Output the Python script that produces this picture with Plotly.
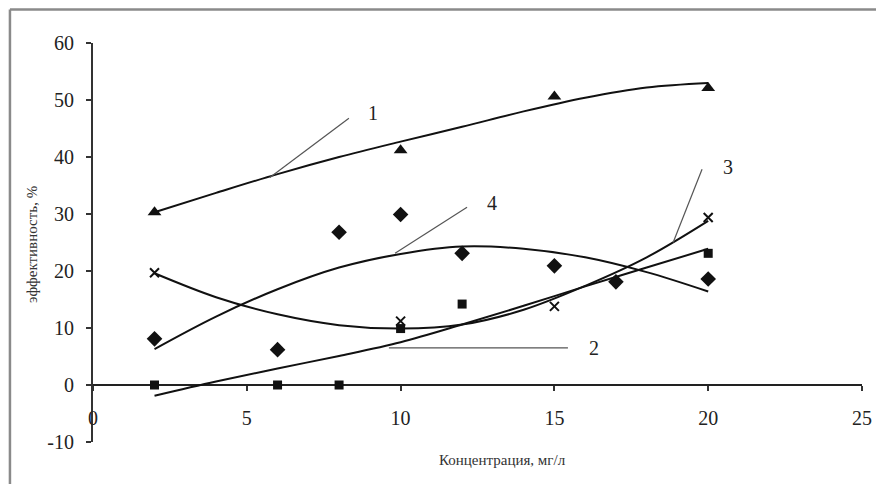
import plotly.graph_objects as go

# ---- data ----
conc_1 = [2, 10, 15, 20]
eff_1 = [30.3, 41.2, 50.6, 52.1]
conc_2 = [2, 6, 8, 10, 12, 20]
eff_2 = [0, 0, 0, 9.9, 14.2, 23.1]
conc_3 = [2, 10, 15, 20]
eff_3 = [19.7, 11.2, 13.8, 29.4]
conc_4 = [2, 6, 8, 10, 12, 15, 17, 20]
eff_4 = [8.1, 6.2, 26.8, 29.9, 23.1, 20.9, 18.1, 18.6]

# trend curves
trend_x = [2, 4, 6, 8, 10, 12, 14, 16, 18, 20]
trend_1 = [30.3, 33.7, 37.0, 40.0, 42.7, 45.3, 48.0, 50.4, 52.2, 53.0]
trend_2 = [-1.9, 0.6, 2.9, 5.1, 7.5, 10.6, 13.9, 17.3, 20.6, 23.9]
trend_3 = [19.6, 15.4, 12.4, 10.5, 9.9, 10.6, 13.2, 17.4, 22.4, 28.8]
trend_4 = [6.3, 12.0, 16.8, 20.6, 23.0, 24.3, 23.9, 22.4, 19.8, 16.4]

x_ticks = [0, 5, 10, 15, 20, 25]
y_ticks = [-10, 0, 10, 20, 30, 40, 50, 60]
y_tick_text = ["-10", "0", "10", "20", "30", "40", "50", "60"]

# labels "1".."4": leader line (x0,y0)->(x1,y1) and text position
labels = ["1", "2", "3", "4"]
lead_x0 = [8.32, 9.62, 19.8, 12.16]
lead_y0 = [46.8, 6.5, 37.85, 31.2]
lead_x1 = [5.75, 15.44, 18.86, 9.82]
lead_y1 = [36.4, 6.5, 25.0, 23.1]
label_x = [9.1, 16.3, 20.64, 12.97]
label_y = [47.7, 6.5, 38.2, 31.9]

FONT = "Liberation Serif"
INK = "#111111"

fig = go.Figure()

for tx, ty in [(trend_x, trend_1), (trend_x, trend_2), (trend_x, trend_3), (trend_x, trend_4)]:
    fig.add_trace(go.Scatter(x=tx, y=ty, mode="lines",
                             line=dict(color=INK, width=2, shape="spline", smoothing=1.0),
                             hoverinfo="skip", showlegend=False))

fig.add_trace(go.Scatter(x=conc_1, y=eff_1, mode="markers",
                         marker=dict(symbol="triangle-up", size=12, color=INK), showlegend=False))
fig.add_trace(go.Scatter(x=conc_2, y=eff_2, mode="markers",
                         marker=dict(symbol="square", size=9, color=INK), showlegend=False))
fig.add_trace(go.Scatter(x=conc_3, y=eff_3, mode="markers",
                         marker=dict(symbol="x-thin-open", size=9, color=INK,
                                     line=dict(width=2, color=INK)), showlegend=False))
fig.add_trace(go.Scatter(x=conc_4, y=eff_4, mode="markers",
                         marker=dict(symbol="diamond", size=12, color=INK), showlegend=False))

shapes = []
for x0, y0, x1, y1 in zip(lead_x0, lead_y0, lead_x1, lead_y1):
    shapes.append(dict(type="line", xref="x", yref="y", x0=x0, y0=y0, x1=x1, y1=y1,
                       line=dict(color="#555555", width=1.2)))
# outer frame of the picture (top and left edges are visible)
shapes.append(dict(type="line", xref="paper", yref="paper",
                   x0=-0.108, x1=1.05, y0=1.084, y1=1.084,
                   line=dict(color="#8a8a8a", width=2.5)))
shapes.append(dict(type="line", xref="paper", yref="paper",
                   x0=-0.108, x1=-0.108, y0=-0.12, y1=1.084,
                   line=dict(color="#8a8a8a", width=2.5)))

annotations = []
for t, lx, ly in zip(labels, label_x, label_y):
    annotations.append(dict(text=t, x=lx, y=ly, xref="x", yref="y", showarrow=False,
                            xanchor="center", yanchor="middle",
                            font=dict(family=FONT, size=20, color="#222222")))
annotations.append(dict(text="Концентрация, мг/л", x=0.532, y=-0.045, xref="paper", yref="paper",
                        showarrow=False, xanchor="center", yanchor="middle",
                        font=dict(family=FONT, size=15, color="#333333")))
annotations.append(dict(text="эффективность, %", x=-0.0793, y=0.494, xref="paper", yref="paper",
                        showarrow=False, xanchor="center", yanchor="middle", textangle=-90,
                        font=dict(family=FONT, size=15, color="#333333")))

fig.update_layout(
    width=876, height=476,
    margin=dict(l=85, r=22, t=35, b=42),
    paper_bgcolor="white", plot_bgcolor="white",
    font=dict(family=FONT, color="#333333"),
    shapes=shapes, annotations=annotations,
    showlegend=False,
)
fig.update_xaxes(range=[0, 25], tickvals=x_ticks, ticks="outside", ticklen=5, tickwidth=1.5,
                 tickcolor="#333333", showline=True, linecolor="#222222", linewidth=2.2,
                 showgrid=False, zeroline=False, anchor="free", position=1/7,
                 tickfont=dict(family=FONT, size=20, color="#222222"),
                 ticklabelstandoff=10, layer="below traces")
fig.update_yaxes(range=[-10, 60], tickvals=y_ticks, ticktext=y_tick_text,
                 ticks="outside", ticklen=5, tickwidth=1.5,
                 tickcolor="#333333", showline=True, linecolor="#333333", linewidth=2,
                 showgrid=False, zeroline=False,
                 tickfont=dict(family=FONT, size=20, color="#222222"),
                 ticklabelstandoff=8, layer="below traces")

fig.write_html("out.html")
